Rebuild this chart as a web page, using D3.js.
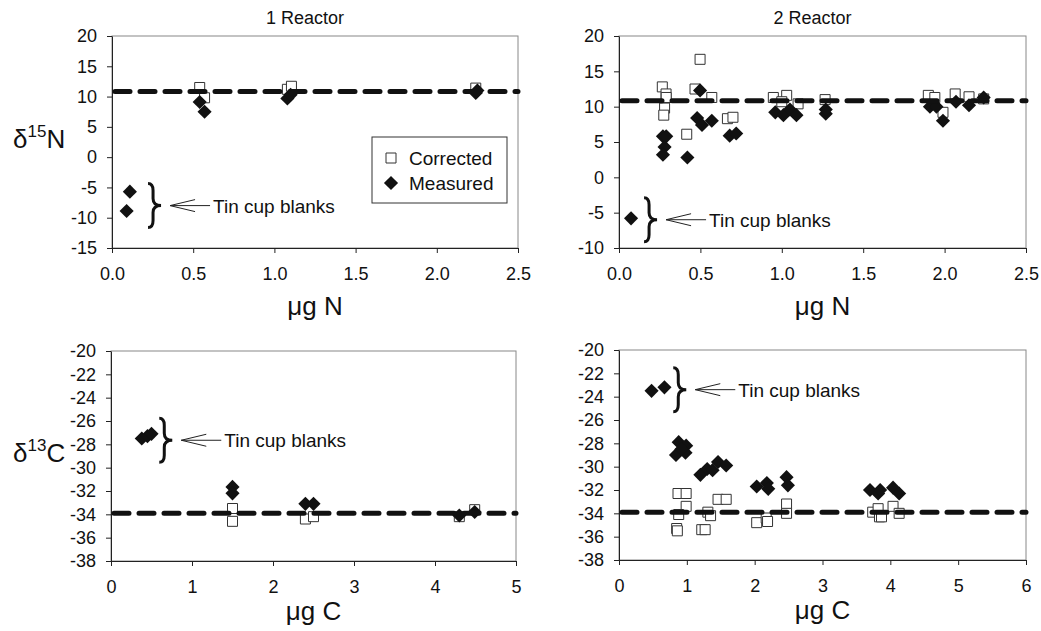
<!DOCTYPE html>
<html>
<head>
<meta charset="utf-8">
<script src="https://cdn.jsdelivr.net/npm/d3@7"></script>
<style>
  body { margin: 0; background: #fff; }
  svg text { font-family: "Liberation Sans", Arial, sans-serif; fill: #111; }
</style>
</head>
<body>
<div id="chart"></div>
<script>
// 1 reactor, d15N vs ug N
const n1Corrected = [[0.54, 11.5], [0.57, 9.8], [1.08, 11.2], [1.105, 11.7], [2.24, 11.4]];
const n1Measured = [[0.11, -5.7], [0.09, -8.9], [0.54, 9.1], [0.57, 7.5], [1.08, 9.7], [1.1, 10.3], [2.24, 10.6], [2.25, 11.0]];

// 2 reactor, d15N vs ug N
const n2Corrected = [[0.266, 12.8], [0.289, 11.8], [0.29, 11.3], [0.28, 9.8], [0.275, 8.8], [0.416, 6.1],
  [0.498, 16.7], [0.467, 12.5], [0.57, 11.3], [0.666, 8.3], [0.70, 8.5], [0.948, 11.3], [1.03, 11.6],
  [1.0, 10.7], [1.10, 10.4], [1.266, 11.0], [1.90, 11.6], [1.94, 11.3], [1.99, 9.2], [2.065, 11.8],
  [2.15, 11.4], [2.24, 11.1]];
const n2Measured = [[0.074, -5.8], [0.27, 5.8], [0.29, 5.8], [0.28, 4.3], [0.27, 3.2], [0.42, 2.8],
  [0.498, 12.3], [0.48, 8.4], [0.51, 7.4], [0.57, 8.0], [0.68, 5.9], [0.72, 6.2], [0.96, 9.2],
  [1.01, 8.8], [1.05, 9.6], [1.09, 8.8], [1.27, 9.0], [1.27, 9.6], [1.91, 10.0], [1.95, 10.0],
  [1.99, 8.0], [2.07, 10.7], [2.15, 10.2], [2.24, 11.3]];

// 1 reactor, d13C vs ug C
const c1Corrected = [[1.5, -33.5], [1.5, -34.6], [2.4, -34.4], [2.5, -34.2], [4.3, -34.2], [4.49, -33.6]];
const c1Measured = [[0.38, -27.5], [0.45, -27.3], [0.5, -27.1], [1.5, -31.65], [1.5, -32.2],
  [2.4, -33.1], [2.5, -33.1], [4.3, -34.1], [4.49, -33.8]];

// 2 reactor, d13C vs ug C
const c2Corrected = [[0.87, -32.3], [0.99, -32.3], [0.99, -33.4], [0.88, -34.1], [0.85, -35.3], [0.86, -35.5],
  [1.22, -35.4], [1.27, -35.4], [1.46, -32.8], [1.58, -32.8], [1.31, -33.9], [1.35, -34.2], [2.03, -34.8],
  [2.17, -34.4], [2.19, -34.7], [2.47, -33.2], [2.47, -34.0], [3.74, -33.9], [3.82, -33.6], [3.84, -34.3],
  [3.87, -34.3], [4.04, -33.4], [4.13, -34.0]];
const c2Measured = [[0.48, -23.5], [0.67, -23.2], [0.88, -27.9], [0.99, -28.2], [0.84, -29.0], [0.98, -28.8],
  [0.92, -28.5], [1.2, -30.7], [1.3, -30.2], [1.38, -30.3], [1.46, -29.6], [1.58, -29.9], [2.03, -31.7],
  [2.18, -31.4], [2.2, -31.9], [2.47, -30.9], [2.49, -31.6], [3.7, -32.0], [3.82, -32.3], [3.85, -32.0],
  [4.04, -31.8], [4.13, -32.3]];

// reference values (dashed lines)
const n15Ref = 10.85;
const c13Ref = -33.9;

// where the "Tin cup blanks" brace sits, in data units, per panel
const blankNoteX = [0.222, 0.154, 0.596, 0.80];
const blankNoteY = [-8.0, -6.0, -27.65, -23.4];

const nTicks = [0, 0.5, 1.0, 1.5, 2.0, 2.5];
const n1YTicks = [-15, -10, -5, 0, 5, 10, 15, 20];
const n2YTicks = [-10, -5, 0, 5, 10, 15, 20];
const cYTicks = [-38, -36, -34, -32, -30, -28, -26, -24, -22, -20];
const c1XTicks = [0, 1, 2, 3, 4, 5];
const c2XTicks = [0, 1, 2, 3, 4, 5, 6];

// plain hyphen for negatives, like the original
const loc = d3.formatLocale({ decimal: '.', thousands: ',', grouping: [3], currency: ['', ''], minus: '-' });
const fmt1 = loc.format('.1f');
const fmtInt = loc.format('d');

const panels = [
  { box: [112, 518, 36, 248], xd: [0, 2.5], yd: [-15, 20], xt: nTicks, yt: n1YTicks, fmt: fmt1, labY: 315,
    corr: n1Corrected, meas: n1Measured, ref: n15Ref, title: '1 Reactor', xlab: 'μg N', ylab: ['δ', '15', 'N'], legend: true },
  { box: [619, 1026, 36, 248], xd: [0, 2.5], yd: [-10, 20], xt: nTicks, yt: n2YTicks, fmt: fmt1, labY: 315,
    corr: n2Corrected, meas: n2Measured, ref: n15Ref, title: '2 Reactor', xlab: 'μg N' },
  { box: [111, 516, 351, 561], xd: [0, 5], yd: [-38, -20], xt: c1XTicks, yt: cYTicks, fmt: fmtInt, labY: 620,
    corr: c1Corrected, meas: c1Measured, ref: c13Ref, xlab: 'μg C', ylab: ['δ', '13', 'C'] },
  { box: [619, 1026, 350, 560], xd: [0, 6], yd: [-38, -20], xt: c2XTicks, yt: cYTicks, fmt: fmtInt, labY: 619,
    corr: c2Corrected, meas: c2Measured, ref: c13Ref, xlab: 'μg C' }
];

const svg = d3.select('#chart').append('svg')
  .attr('width', 1041)
  .attr('height', 631);

const square = d3.symbol().type(d3.symbolSquare).size(100);
const diamond = d3.symbol().type(d3.symbolSquare).size(100); // rotated 45 below

function bracePath(x, ym) {
  const h = 22, w = 5, r = 7;
  const p = d3.path();
  p.moveTo(x, ym - h);
  p.quadraticCurveTo(x + w, ym - h, x + w, ym - h + r);
  p.lineTo(x + w, ym - r);
  p.quadraticCurveTo(x + w, ym, x + 2 * w + 3, ym);
  p.quadraticCurveTo(x + w, ym, x + w, ym + r);
  p.lineTo(x + w, ym + h - r);
  p.quadraticCurveTo(x + w, ym + h, x, ym + h);
  return p.toString();
}

panels.forEach((p, i) => {
  const [l, r, t, b] = p.box;
  const x = d3.scaleLinear().domain(p.xd).range([l, r]);
  const y = d3.scaleLinear().domain(p.yd).range([b, t]);
  const g = svg.append('g');

  // frame
  g.append('rect')
    .attr('x', l).attr('y', t)
    .attr('width', r - l).attr('height', b - t)
    .attr('fill', 'none')
    .attr('stroke', '#888');

  const xAxis = g.append('g')
    .attr('transform', `translate(0,${b})`)
    .call(d3.axisBottom(x).tickValues(p.xt).tickFormat(p.fmt).tickSize(5).tickPadding(14).tickSizeOuter(0));
  const yAxis = g.append('g')
    .attr('transform', `translate(${l},0)`)
    .call(d3.axisLeft(y).tickValues(p.yt).tickFormat(fmtInt).tickSize(5).tickPadding(10).tickSizeOuter(0));
  [xAxis, yAxis].forEach(a => {
    a.selectAll('text').style('font-size', '18px').attr('fill', '#111');
    a.selectAll('line, path').attr('stroke', '#222');
  });

  // points
  g.selectAll('.corr')
    .data(p.corr)
    .enter().append('path')
    .attr('class', 'corr')
    .attr('d', square)
    .attr('transform', d => `translate(${x(d[0])},${y(d[1])})`)
    .attr('fill', '#fff')
    .attr('stroke', '#333')
    .attr('stroke-width', 1);

  g.selectAll('.meas')
    .data(p.meas)
    .enter().append('path')
    .attr('class', 'meas')
    .attr('d', diamond)
    .attr('transform', d => `translate(${x(d[0])},${y(d[1])}) rotate(45)`)
    .attr('fill', '#111');

  // reference line
  g.append('line')
    .attr('x1', x(p.xd[0]) + 3).attr('x2', x(p.xd[1]))
    .attr('y1', y(p.ref)).attr('y2', y(p.ref))
    .attr('stroke', '#111')
    .attr('stroke-width', 5)
    .attr('stroke-linecap', 'round')
    .attr('stroke-dasharray', '15,10');

  // tin cup blanks note
  const bx = x(blankNoteX[i]), by = y(blankNoteY[i]);
  g.append('path')
    .attr('d', bracePath(bx, by))
    .attr('fill', 'none')
    .attr('stroke', '#111')
    .attr('stroke-width', 3);
  g.append('path')
    .attr('d', `M${bx + 47},${by - 6}L${bx + 22},${by}L${bx + 47},${by + 6}M${bx + 22},${by}L${bx + 62},${by}`)
    .attr('fill', 'none')
    .attr('stroke', '#222')
    .attr('stroke-width', 1);
  g.append('text')
    .attr('x', bx + 65).attr('y', by + 7)
    .style('font-size', '19px')
    .text('Tin cup blanks');

  if (p.title) {
    g.append('text')
      .attr('x', (l + r) / 2 - 10).attr('y', 24)
      .attr('text-anchor', 'middle')
      .style('font-size', '18px')
      .text(p.title);
  }

  g.append('text')
    .attr('x', (l + r) / 2).attr('y', p.labY)
    .attr('text-anchor', 'middle')
    .style('font-size', '26px')
    .text(p.xlab);

  if (p.ylab) {
    const yl = g.append('text')
      .attr('x', 13).attr('y', (t + b) / 2 + 6)
      .style('font-size', '26px');
    yl.append('tspan').text(p.ylab[0]);
    yl.append('tspan').attr('dy', -11).style('font-size', '17px').text(p.ylab[1]);
    yl.append('tspan').attr('dy', 11).text(p.ylab[2]);
  }

  if (p.legend) {
    const lg = g.append('g').attr('transform', 'translate(372,137)');
    lg.append('rect')
      .attr('width', 135).attr('height', 66)
      .attr('fill', '#fff')
      .attr('stroke', '#333');
    lg.append('path').attr('d', square).attr('transform', 'translate(19,21)')
      .attr('fill', '#fff').attr('stroke', '#333');
    lg.append('path').attr('d', diamond).attr('transform', 'translate(19,46) rotate(45)')
      .attr('fill', '#111');
    lg.append('text').attr('x', 37).attr('y', 28).style('font-size', '19px').text('Corrected');
    lg.append('text').attr('x', 37).attr('y', 53).style('font-size', '19px').text('Measured');
  }
});
</script>
</body>
</html>
